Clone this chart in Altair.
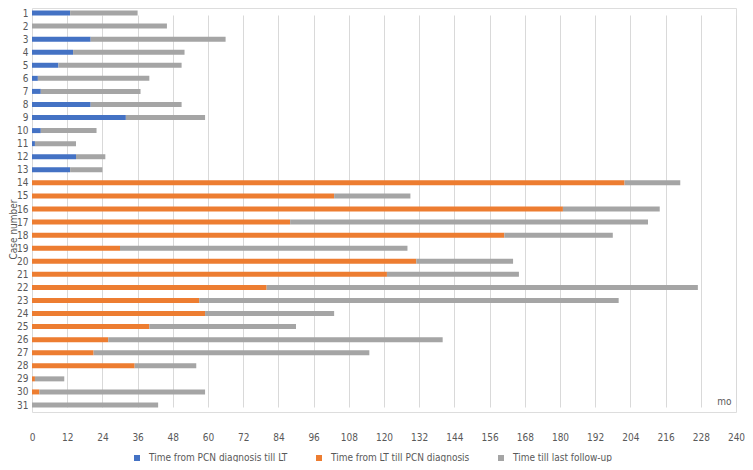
import altair as alt
import pandas as pd

cases = [str(i) for i in range(1, 32)]
series = ["Time from PCN diagnosis till LT", "Time from LT till PCN diagnosis", "Time till last follow-up"]
colors = ["#4472C4", "#ED7D31", "#A5A5A5"]

pcn_to_lt = [13, 0, 20, 14, 9, 2, 3, 20, 32, 3, 1, 15, 13,
             0, 0, 0, 0, 0, 0, 0, 0, 0, 0, 0, 0, 0, 0, 0, 0, 0, 0]
lt_to_pcn = [0, 0, 0, 0, 0, 0, 0, 0, 0, 0, 0, 0, 0,
             202, 103, 181, 88, 161, 30, 131, 121, 80, 57, 59, 40, 26, 21, 35, 1, 2.5, 0]
followup = [23, 46, 46, 38, 42, 38, 34, 31, 27, 19, 14, 10, 11,
            19, 26, 33, 122, 37, 98, 33, 45, 147, 143, 44, 50, 114, 94, 21, 10, 56.5, 43]
x_ticks = [0, 12, 24, 36, 48, 60, 72, 84, 96, 108, 120, 132, 144, 156, 168, 180, 192, 204, 216, 228, 240]

rows = []
for i, c in enumerate(cases):
    for k, vals in enumerate([pcn_to_lt, lt_to_pcn, followup]):
        if vals[i] > 0:
            rows.append({"case": c, "series": series[k], "value": vals[i], "order": k})
df = pd.DataFrame(rows)

FONT = "DejaVu Sans Condensed, Liberation Sans Narrow, sans-serif"
TXT = "#595959"

bars = alt.Chart(df).mark_bar(size=5).encode(
    x=alt.X("value:Q", stack="zero",
            scale=alt.Scale(domain=[0, 240], nice=False, zero=True),
            axis=alt.Axis(values=x_ticks, tickCount=len(x_ticks), title=None, grid=True,
                          gridColor="#D9D9D9",
                          domain=False, ticks=False, labelPadding=20, labelFontSize=10,
                          labelColor=TXT, labelFont=FONT, labelOverlap=False,
                          labelFlush=False)),
    y=alt.Y("case:N", sort=cases,
            scale=alt.Scale(type="point", range=[5, 397], padding=0),
            axis=alt.Axis(title="Case number", grid=False, domain=False, ticks=False,
                          labelPadding=4, labelFontSize=10, labelColor=TXT, labelFont=FONT,
                          labelOverlap=False,
                          titleFontSize=10, titleColor=TXT, titleFont=FONT,
                          titleFontWeight="normal", titleX=-16, titleY=221,
                          titleBaseline="alphabetic", titleAlign="center")),
    color=alt.Color("series:N", sort=series,
                    scale=alt.Scale(domain=series, range=colors),
                    legend=alt.Legend(title=None, orient="none", direction="horizontal",
                                      legendX=100, legendY=445, symbolType="square",
                                      symbolSize=36, symbolStrokeWidth=0,
                                      labelFontSize=10, labelColor=TXT, labelFont=FONT,
                                      columnPadding=26, labelOffset=7)),
    order=alt.Order("order:Q"),
)

mo = alt.Chart(pd.DataFrame({"t": ["mo"]})).mark_text(
    fontSize=10, color=TXT, font=FONT, align="center", baseline="middle"
).encode(x=alt.datum(236), y=alt.value(394), text="t:N")

chart = alt.layer(bars, mo).properties(
    width=704, height=404,
    autosize=alt.AutoSizeParams(type="none"),
    padding={"left": 24, "top": 0, "right": 9, "bottom": 50},
).configure_view(stroke=None).configure(font=FONT)

chart.save("out.html", embed_options={"renderer": "svg", "actions": False})
